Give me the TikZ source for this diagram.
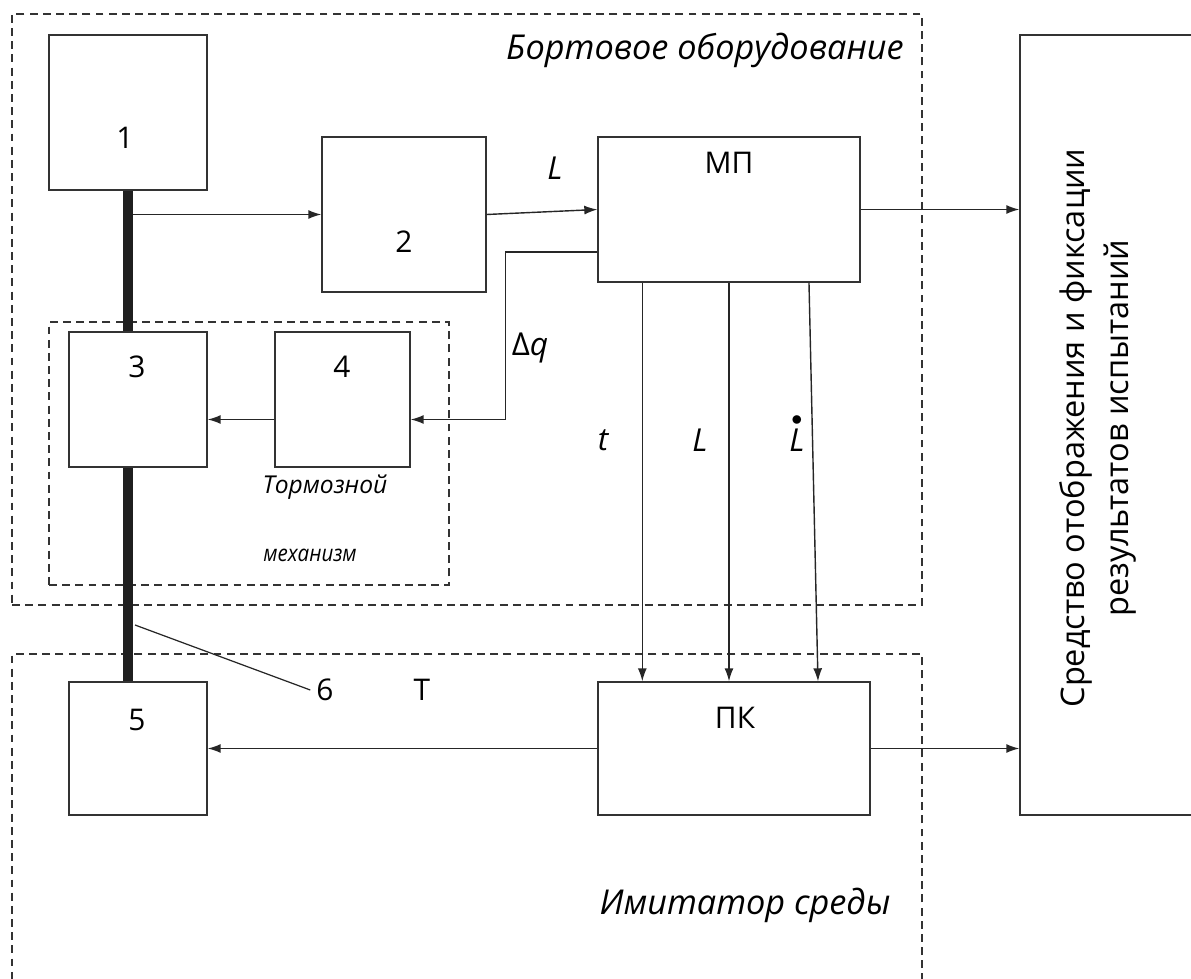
\documentclass[tikz,border=0pt]{standalone}
\usepackage{fontspec}
\setmainfont{Open Sans}
\usepackage{fix-cm}
\usetikzlibrary{arrows.meta,positioning}

\begin{document}
\begin{tikzpicture}[
  x=0.02cm, y=-0.02cm,
  box/.style={rectangle, draw=black!80, line width=0.8pt, inner sep=0pt},
  zone/.style={rectangle, draw=black!80, line width=0.7pt, dash pattern=on 4.5pt off 3pt, inner sep=0pt},
  arr/.style={-{Latex[length=2.6mm,width=1.8mm]}, draw=black!85, line width=0.8pt},
  shaft/.style={draw=black!88, line width=5.7pt},
  num/.style={font=\fontsize{17}{20}\selectfont},
  sig/.style={font=\itshape\fontsize{18}{21}\selectfont},
  zonelbl/.style={font=\itshape\fontsize{19.5}{23}\selectfont}
]
\useasboundingbox (0,0) rectangle (1191,979);
% zones
\node[zone, minimum width=18.2cm, minimum height=11.82cm] (board) at (467,309.5) {};
\node[zone, minimum width=8cm, minimum height=5.26cm] (brake) at (249,453.5) {};
\node[zone, minimum width=18.2cm, minimum height=6.8cm] (env) at (467,824) {};
% blocks
\node[box, minimum width=3.16cm, minimum height=3.1cm] (b1) at (128,112.5) {};
\node[box, minimum width=3.28cm, minimum height=3.1cm] (b2) at (404,214.5) {};
\node[box, minimum width=5.24cm, minimum height=2.9cm] (mp) at (729,209.5) {};
\node[box, minimum width=2.76cm, minimum height=2.7cm] (b3) at (138,399.5) {};
\node[box, minimum width=2.7cm, minimum height=2.7cm] (b4) at (342.5,399.5) {};
\node[box, minimum width=2.76cm, minimum height=2.66cm] (b5) at (138,748.5) {};
\node[box, minimum width=5.44cm, minimum height=2.66cm] (pk) at (734,748.5) {};
\node[box, minimum width=3.6cm, minimum height=15.6cm] (disp) at (1110,425) {};
\node[rotate=90, align=center, font=\fontsize{18.5}{25.5}\selectfont] (ldisp) at (1098,428)
  {Средство отображения и фиксации\\результатов испытаний};
% texts
\node[num] (t1) at (125,138) {1};
\node[num] (t2) at (404,242) {2};
\node[num] (tmp) at (729,163) {МП};
\node[num] (t3) at (137,367) {3};
\node[num] (t4) at (342,367) {4};
\node[num] (t5) at (137,720) {5};
\node[num] (tpk) at (735,718) {ПК};
\node[num] (n6) at (325,690) {6};
\node[num] (tT) at (422,690) {Т};
\node[zonelbl] (lboard) at (705,50) {Бортовое оборудование};
\node[zonelbl] (lenv) at (745,905) {Имитатор среды};
\node[font=\itshape\fontsize{14}{16}\selectfont] (lbrake1) at (325,487) {Тормозной};
\node[font=\itshape\fontsize{13}{15}\selectfont, xscale=0.9] (lbrake2) at (310,555) {механизм};
\node[sig] (sL) at (555,168) {L};
\node[sig] (sq) at (530,348) {{\upshape Δ}q};
\node[sig] (st) at (603,440) {t};
\node[sig] (sL2) at (700,440) {L};
\node[sig, inner sep=1pt] (sLd) at (797,433) {$\stackrel{\bullet}{\mbox{\itshape L}}$};
% links
\draw[arr] (b1.south |- b2.west) -- (b2.west);
\draw[shaft] (b1.south) -- (b1.south |- b3.north);
\draw[shaft] (b1.south |- b3.south) -- (b1.south |- b5.north);
\draw[arr] (b2.east) -- (mp.west);
\draw[arr] (mp.east) -- (mp.east -| disp.west);
\draw[arr] ([yshift=-0.85cm]mp.west) -- ++(-92,0) |- ([yshift=-0.4cm]b4.east);
\draw[arr] ([yshift=-0.4cm]b4.west) -- ([yshift=-0.4cm]b4.west -| b3.east);
\draw[arr] ([xshift=0.9cm]mp.south west) -- ([xshift=0.9cm]mp.south west |- pk.north);
\draw[arr] (mp.south) -- (mp.south |- pk.north);
\draw[arr] ([xshift=1.6cm]mp.south) -- ([xshift=1.78cm]mp.south |- pk.north);
\draw[arr] (pk.west) -- (pk.west -| b5.east);
\draw[arr] (pk.east) -- (pk.east -| disp.west);
\coordinate (tap) at (135,625);
\draw[draw=black!85, line width=0.7pt] (tap) -- (n6.west);
\end{tikzpicture}
\end{document}
